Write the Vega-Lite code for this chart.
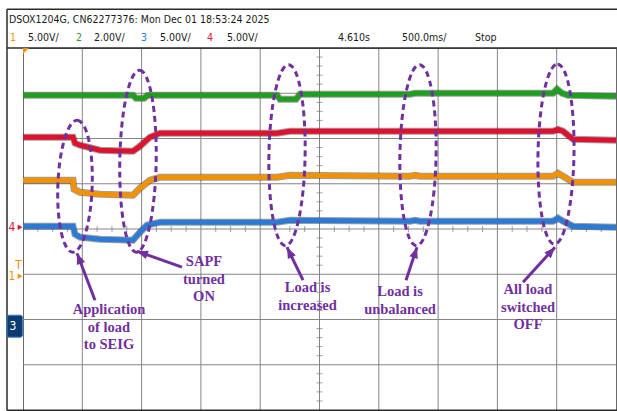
{
  "$schema": "https://vega.github.io/schema/vega-lite/v6.json",
  "width": 593,
  "height": 362,
  "autosize": {"type": "none"},
  "padding": {"left": 23, "top": 48, "right": 1, "bottom": 1},
  "background": "white",
  "config": {"view": {"stroke": "#6a6a6a", "strokeWidth": 1}},
  "datasets": {
    "traces": [
      {"ch": "2", "t": 0, "v": 6.957}, {"ch": "2", "t": 1.855, "v": 6.957}, {"ch": "2", "t": 1.906, "v": 6.891}, {"ch": "2", "t": 2.04, "v": 6.891}, {"ch": "2", "t": 2.108, "v": 6.957}, {"ch": "2", "t": 4.283, "v": 6.957}, {"ch": "2", "t": 4.334, "v": 6.869}, {"ch": "2", "t": 4.604, "v": 6.869}, {"ch": "2", "t": 4.671, "v": 6.979}, {"ch": "2", "t": 6.526, "v": 6.979}, {"ch": "2", "t": 6.61, "v": 7.001}, {"ch": "2", "t": 8.938, "v": 7.001}, {"ch": "2", "t": 9.005, "v": 7.09}, {"ch": "2", "t": 9.089, "v": 7.001}, {"ch": "2", "t": 9.191, "v": 6.957}, {"ch": "2", "t": 10, "v": 6.935},
      {"ch": "4", "t": 0, "v": 6.029}, {"ch": "4", "t": 0.843, "v": 6.029}, {"ch": "4", "t": 0.877, "v": 5.896}, {"ch": "4", "t": 0.961, "v": 5.852}, {"ch": "4", "t": 1.298, "v": 5.742}, {"ch": "4", "t": 1.855, "v": 5.719}, {"ch": "4", "t": 1.973, "v": 5.83}, {"ch": "4", "t": 2.142, "v": 6.029}, {"ch": "4", "t": 2.31, "v": 6.117}, {"ch": "4", "t": 4.283, "v": 6.117}, {"ch": "4", "t": 4.503, "v": 6.161}, {"ch": "4", "t": 8.938, "v": 6.161}, {"ch": "4", "t": 9.022, "v": 6.2}, {"ch": "4", "t": 9.106, "v": 6.161}, {"ch": "4", "t": 9.275, "v": 5.984}, {"ch": "4", "t": 10, "v": 5.963},
      {"ch": "1", "t": 0, "v": 5.078}, {"ch": "1", "t": 0.843, "v": 5.078}, {"ch": "1", "t": 0.86, "v": 4.88}, {"ch": "1", "t": 0.961, "v": 4.813}, {"ch": "1", "t": 1.298, "v": 4.769}, {"ch": "1", "t": 1.855, "v": 4.747}, {"ch": "1", "t": 1.973, "v": 4.902}, {"ch": "1", "t": 2.142, "v": 5.078}, {"ch": "1", "t": 2.31, "v": 5.145}, {"ch": "1", "t": 4.283, "v": 5.145}, {"ch": "1", "t": 4.503, "v": 5.189}, {"ch": "1", "t": 6.526, "v": 5.167}, {"ch": "1", "t": 6.61, "v": 5.189}, {"ch": "1", "t": 6.695, "v": 5.167}, {"ch": "1", "t": 8.938, "v": 5.167}, {"ch": "1", "t": 9.022, "v": 5.233}, {"ch": "1", "t": 9.106, "v": 5.167}, {"ch": "1", "t": 9.275, "v": 5.034}, {"ch": "1", "t": 10, "v": 5.034},
      {"ch": "3", "t": 0, "v": 4.062}, {"ch": "3", "t": 0.843, "v": 4.062}, {"ch": "3", "t": 0.877, "v": 3.885}, {"ch": "3", "t": 0.961, "v": 3.819}, {"ch": "3", "t": 1.298, "v": 3.775}, {"ch": "3", "t": 1.855, "v": 3.753}, {"ch": "3", "t": 1.973, "v": 3.929}, {"ch": "3", "t": 2.091, "v": 4.084}, {"ch": "3", "t": 2.31, "v": 4.15}, {"ch": "3", "t": 4.283, "v": 4.15}, {"ch": "3", "t": 4.503, "v": 4.194}, {"ch": "3", "t": 6.526, "v": 4.172}, {"ch": "3", "t": 6.61, "v": 4.194}, {"ch": "3", "t": 6.695, "v": 4.172}, {"ch": "3", "t": 8.938, "v": 4.172}, {"ch": "3", "t": 9.022, "v": 4.239}, {"ch": "3", "t": 9.106, "v": 4.172}, {"ch": "3", "t": 9.275, "v": 4.062}, {"ch": "3", "t": 10, "v": 4.04}
    ],
    "gridx": [{"t": 1}, {"t": 2}, {"t": 3}, {"t": 4}, {"t": 5}, {"t": 6}, {"t": 7}, {"t": 8}, {"t": 9}],
    "gridy": [{"v": 1}, {"v": 2}, {"v": 3}, {"v": 4}, {"v": 5}, {"v": 6}, {"v": 7}],
    "hticks": [{"t": 0.25}, {"t": 0.5}, {"t": 0.75}, {"t": 1.25}, {"t": 1.5}, {"t": 1.75}, {"t": 2.25}, {"t": 2.5}, {"t": 2.75}, {"t": 3.25}, {"t": 3.5}, {"t": 3.75}, {"t": 4.25}, {"t": 4.5}, {"t": 4.75}, {"t": 5.25}, {"t": 5.5}, {"t": 5.75}, {"t": 6.25}, {"t": 6.5}, {"t": 6.75}, {"t": 7.25}, {"t": 7.5}, {"t": 7.75}, {"t": 8.25}, {"t": 8.5}, {"t": 8.75}, {"t": 9.25}, {"t": 9.5}, {"t": 9.75}],
    "vticks": [{"v": 0.2}, {"v": 0.4}, {"v": 0.6}, {"v": 0.8}, {"v": 1.2}, {"v": 1.4}, {"v": 1.6}, {"v": 1.8}, {"v": 2.2}, {"v": 2.4}, {"v": 2.6}, {"v": 2.8}, {"v": 3.2}, {"v": 3.4}, {"v": 3.6}, {"v": 3.8}, {"v": 4.2}, {"v": 4.4}, {"v": 4.6}, {"v": 4.8}, {"v": 5.2}, {"v": 5.4}, {"v": 5.6}, {"v": 5.8}, {"v": 6.2}, {"v": 6.4}, {"v": 6.6}, {"v": 6.8}, {"v": 7.2}, {"v": 7.4}, {"v": 7.6}, {"v": 7.8}],
    "rings": [
      {"event": "load applied", "t": 0.877, "v": 4.946, "span": 2.917},
      {"event": "SAPF on", "t": 1.939, "v": 5.498, "span": 4.022},
      {"event": "load increased", "t": 4.452, "v": 5.631, "span": 4.0},
      {"event": "load unbalanced", "t": 6.661, "v": 5.631, "span": 4.0},
      {"event": "load off", "t": 8.988, "v": 5.653, "span": 3.978}
    ],
    "arrows": [
      {"t": 1.214, "v": 2.427, "t2": 0.911, "v2": 3.465, "heading": 339},
      {"t": 2.681, "v": 3.156, "t2": 1.922, "v2": 3.509, "heading": 290},
      {"t": 4.722, "v": 2.869, "t2": 4.452, "v2": 3.598, "heading": 334},
      {"t": 6.459, "v": 2.869, "t2": 6.644, "v2": 3.598, "heading": 18},
      {"t": 8.432, "v": 2.824, "t2": 8.971, "v2": 3.598, "heading": 42}
    ],
    "notes": [
      {"t": 1.45, "v": 2.206, "label": "Application\nof load\nto SEIG"},
      {"t": 3.052, "v": 3.267, "label": "SAPF\nturned\nON"},
      {"t": 4.798, "v": 2.692, "label": "Load is\nincreased"},
      {"t": 6.358, "v": 2.604, "label": "Load is\nunbalanced"},
      {"t": 8.516, "v": 2.648, "label": "All load\nswitched\nOFF"}
    ],
    "header": [
      {"t": -0.236, "v": 8.614, "label": "DSOX1204G, CN62277376: Mon Dec 01 18:53:24 2025", "ch": "k"},
      {"t": -0.219, "v": 8.217, "label": "1", "ch": "1"},
      {"t": 0.084, "v": 8.217, "label": "5.00V/", "ch": "k"},
      {"t": 0.894, "v": 8.217, "label": "2", "ch": "2"},
      {"t": 1.197, "v": 8.217, "label": "2.00V/", "ch": "k"},
      {"t": 1.99, "v": 8.217, "label": "3", "ch": "3"},
      {"t": 2.31, "v": 8.217, "label": "5.00V/", "ch": "k"},
      {"t": 3.103, "v": 8.217, "label": "4", "ch": "4"},
      {"t": 3.44, "v": 8.217, "label": "5.00V/", "ch": "k"},
      {"t": 5.312, "v": 8.217, "label": "4.610s", "ch": "k"},
      {"t": 6.391, "v": 8.217, "label": "500.0ms/", "ch": "k"},
      {"t": 7.622, "v": 8.217, "label": "Stop", "ch": "k"}
    ],
    "frame": [
      {"t": -0.27, "v": 8.857, "t2": 10.02, "v2": 8.857},
      {"t": -0.27, "v": 8.857, "t2": -0.27, "v2": -0.01},
      {"t": -0.27, "v": 8.0, "t2": 10.02, "v2": 8.0},
      {"t": -0.27, "v": -0.005, "t2": 10.02, "v2": -0.005}
    ],
    "markers": [
      {"t": -0.186, "v": 4.04, "label": "4", "ch": "4"},
      {"t": -0.186, "v": 2.957, "label": "1", "ch": "1"},
      {"t": -0.075, "v": 3.2, "label": "T", "ch": "1"}
    ],
    "pointers": [
      {"t": -0.05, "v": 4.04, "ch": "4"},
      {"t": -0.05, "v": 2.957, "ch": "1"}
    ],
    "box3": [{"t": -0.27, "v": 2.095, "t2": -0.01, "v2": 1.609, "label": "3"}],
    "trigger": [{"t": 0, "v": 8, "ch": "1"}]
  },
  "layer": [
    {
      "data": {"name": "gridx"},
      "mark": {"type": "rule", "color": "#858585", "strokeWidth": 1},
      "encoding": {
        "x": {"field": "t", "type": "quantitative", "scale": {"domain": [0, 10]}, "axis": null}
      }
    },
    {
      "data": {"name": "gridy"},
      "mark": {"type": "rule", "color": "#858585", "strokeWidth": 1},
      "encoding": {
        "y": {"field": "v", "type": "quantitative", "scale": {"domain": [0, 8]}, "axis": null}
      }
    },
    {
      "data": {"name": "hticks"},
      "mark": {"type": "tick", "orient": "vertical", "size": 6, "thickness": 1, "color": "#7a7a7a"},
      "encoding": {
        "x": {"field": "t", "type": "quantitative", "scale": {"domain": [0, 10]}, "axis": null},
        "y": {"datum": 4, "type": "quantitative", "scale": {"domain": [0, 8]}, "axis": null}
      }
    },
    {
      "data": {"name": "vticks"},
      "mark": {"type": "tick", "orient": "horizontal", "size": 6, "thickness": 1, "color": "#7a7a7a"},
      "encoding": {
        "x": {"datum": 5, "type": "quantitative", "scale": {"domain": [0, 10]}, "axis": null},
        "y": {"field": "v", "type": "quantitative", "scale": {"domain": [0, 8]}, "axis": null}
      }
    },
    {
      "data": {"name": "traces"},
      "mark": {"type": "line", "strokeWidth": 7, "color": "#2a2a2a", "opacity": 0.45},
      "encoding": {
        "x": {"field": "t", "type": "quantitative", "scale": {"domain": [0, 10]}, "axis": null},
        "y": {"field": "v", "type": "quantitative", "scale": {"domain": [0, 8]}, "axis": null},
        "detail": {"field": "ch"}
      }
    },
    {
      "data": {"name": "traces"},
      "mark": {"type": "line", "strokeWidth": 5},
      "encoding": {
        "x": {"field": "t", "type": "quantitative", "scale": {"domain": [0, 10]}, "axis": null},
        "y": {"field": "v", "type": "quantitative", "scale": {"domain": [0, 8]}, "axis": null},
        "color": {"field": "ch", "type": "nominal", "scale": {"domain": ["1", "2", "3", "4", "k"], "range": ["#F39200", "#1F9E1F", "#2B7AD6", "#E0112E", "#1a1a1a"]}, "legend": null}
      }
    },
    {
      "data": {"name": "rings"},
      "transform": [{"filter": "datum.event == 'load applied'"}],
      "mark": {"type": "point", "shape": "M0,-1C0.1436,-1,0.26,-0.5523,0.26,0C0.26,0.5523,0.1436,1,0,1C-0.1436,1,-0.26,0.5523,-0.26,0C-0.26,-0.5523,-0.1436,-1,0,-1Z", "filled": false, "stroke": "#7030A0", "strokeWidth": 3, "strokeDash": [6, 4], "opacity": 1, "angle": 2},
      "encoding": {
        "x": {"field": "t", "type": "quantitative", "scale": {"domain": [0, 10]}, "axis": null},
        "y": {"field": "v", "type": "quantitative", "scale": {"domain": [0, 8]}, "axis": null},
        "size": {"field": "span", "type": "quantitative", "scale": {"type": "pow", "exponent": 2, "domain": [0, 4], "range": [0, 32761]}, "legend": null}
      }
    },
    {
      "data": {"name": "rings"},
      "transform": [{"filter": "datum.event != 'load applied'"}],
      "mark": {"type": "point", "shape": "M0,-1C0.1105,-1,0.2,-0.5523,0.2,0C0.2,0.5523,0.1105,1,0,1C-0.1105,1,-0.2,0.5523,-0.2,0C-0.2,-0.5523,-0.1105,-1,0,-1Z", "filled": false, "stroke": "#7030A0", "strokeWidth": 3, "strokeDash": [6, 4], "opacity": 1, "angle": 1},
      "encoding": {
        "x": {"field": "t", "type": "quantitative", "scale": {"domain": [0, 10]}, "axis": null},
        "y": {"field": "v", "type": "quantitative", "scale": {"domain": [0, 8]}, "axis": null},
        "size": {"field": "span", "type": "quantitative", "scale": {"type": "pow", "exponent": 2, "domain": [0, 4], "range": [0, 32761]}, "legend": null}
      }
    },
    {
      "data": {"name": "arrows"},
      "mark": {"type": "rule", "color": "#7030A0", "strokeWidth": 3},
      "encoding": {
        "x": {"field": "t", "type": "quantitative", "scale": {"domain": [0, 10]}, "axis": null},
        "y": {"field": "v", "type": "quantitative", "scale": {"domain": [0, 8]}, "axis": null},
        "x2": {"field": "t2"},
        "y2": {"field": "v2"}
      }
    },
    {
      "data": {"name": "arrows"},
      "mark": {"type": "point", "shape": "M0,0L-0.8,2L0.8,2Z", "filled": true, "color": "#7030A0", "opacity": 1, "size": 121},
      "encoding": {
        "x": {"field": "t2", "type": "quantitative", "scale": {"domain": [0, 10]}, "axis": null},
        "y": {"field": "v2", "type": "quantitative", "scale": {"domain": [0, 8]}, "axis": null},
        "angle": {"field": "heading", "type": "quantitative", "scale": null}
      }
    },
    {
      "data": {"name": "notes"},
      "mark": {"type": "text", "font": "Liberation Serif", "fontWeight": "bold", "fontSize": 14.5, "color": "#7030A0", "align": "center", "baseline": "middle", "lineBreak": "\n", "lineHeight": 17.5},
      "encoding": {
        "x": {"field": "t", "type": "quantitative", "scale": {"domain": [0, 10]}, "axis": null},
        "y": {"field": "v", "type": "quantitative", "scale": {"domain": [0, 8]}, "axis": null},
        "text": {"field": "label"}
      }
    },
    {
      "data": {"name": "header"},
      "mark": {"type": "text", "font": "DejaVu Sans Condensed", "fontSize": 10.5, "align": "left", "baseline": "middle"},
      "encoding": {
        "x": {"field": "t", "type": "quantitative", "scale": {"domain": [0, 10]}, "axis": null},
        "y": {"field": "v", "type": "quantitative", "scale": {"domain": [0, 8]}, "axis": null},
        "text": {"field": "label"},
        "color": {"field": "ch", "type": "nominal", "scale": {"domain": ["1", "2", "3", "4", "k"], "range": ["#F39200", "#1F9E1F", "#2B7AD6", "#E0112E", "#1a1a1a"]}, "legend": null}
      }
    },
    {
      "data": {"name": "frame"},
      "mark": {"type": "rule", "color": "#2b2b2b", "strokeWidth": 1.5},
      "encoding": {
        "x": {"field": "t", "type": "quantitative", "scale": {"domain": [0, 10]}, "axis": null},
        "y": {"field": "v", "type": "quantitative", "scale": {"domain": [0, 8]}, "axis": null},
        "x2": {"field": "t2"},
        "y2": {"field": "v2"}
      }
    },
    {
      "data": {"name": "markers"},
      "mark": {"type": "text", "font": "DejaVu Sans Condensed", "fontSize": 12, "align": "center", "baseline": "middle"},
      "encoding": {
        "x": {"field": "t", "type": "quantitative", "scale": {"domain": [0, 10]}, "axis": null},
        "y": {"field": "v", "type": "quantitative", "scale": {"domain": [0, 8]}, "axis": null},
        "text": {"field": "label"},
        "color": {"field": "ch", "type": "nominal", "scale": {"domain": ["1", "2", "3", "4", "k"], "range": ["#F39200", "#1F9E1F", "#2B7AD6", "#E0112E", "#1a1a1a"]}, "legend": null}
      }
    },
    {
      "data": {"name": "pointers"},
      "mark": {"type": "point", "shape": "triangle-right", "filled": true, "opacity": 1, "size": 30},
      "encoding": {
        "x": {"field": "t", "type": "quantitative", "scale": {"domain": [0, 10]}, "axis": null},
        "y": {"field": "v", "type": "quantitative", "scale": {"domain": [0, 8]}, "axis": null},
        "color": {"field": "ch", "type": "nominal", "scale": {"domain": ["1", "2", "3", "4", "k"], "range": ["#F39200", "#1F9E1F", "#2B7AD6", "#E0112E", "#1a1a1a"]}, "legend": null}
      }
    },
    {
      "data": {"name": "box3"},
      "mark": {"type": "rect", "color": "#0d3b70", "stroke": "#3f7fc0", "strokeWidth": 1, "cornerRadius": 2},
      "encoding": {
        "x": {"field": "t", "type": "quantitative", "scale": {"domain": [0, 10]}, "axis": null},
        "y": {"field": "v", "type": "quantitative", "scale": {"domain": [0, 8]}, "axis": null},
        "x2": {"field": "t2"},
        "y2": {"field": "v2"}
      }
    },
    {
      "data": {"name": "box3"},
      "mark": {"type": "text", "font": "DejaVu Sans Condensed", "fontSize": 12, "color": "white", "align": "center", "baseline": "middle", "dx": 6, "dy": 11},
      "encoding": {
        "x": {"field": "t", "type": "quantitative", "scale": {"domain": [0, 10]}, "axis": null},
        "y": {"field": "v", "type": "quantitative", "scale": {"domain": [0, 8]}, "axis": null},
        "text": {"field": "label"}
      }
    },
    {
      "data": {"name": "trigger"},
      "mark": {"type": "point", "shape": "M0,0L2,0L0,2Z", "filled": true, "opacity": 1, "size": 36},
      "encoding": {
        "x": {"field": "t", "type": "quantitative", "scale": {"domain": [0, 10]}, "axis": null},
        "y": {"field": "v", "type": "quantitative", "scale": {"domain": [0, 8]}, "axis": null},
        "color": {"field": "ch", "type": "nominal", "scale": {"domain": ["1", "2", "3", "4", "k"], "range": ["#F39200", "#1F9E1F", "#2B7AD6", "#E0112E", "#1a1a1a"]}, "legend": null}
      }
    }
  ]
}
